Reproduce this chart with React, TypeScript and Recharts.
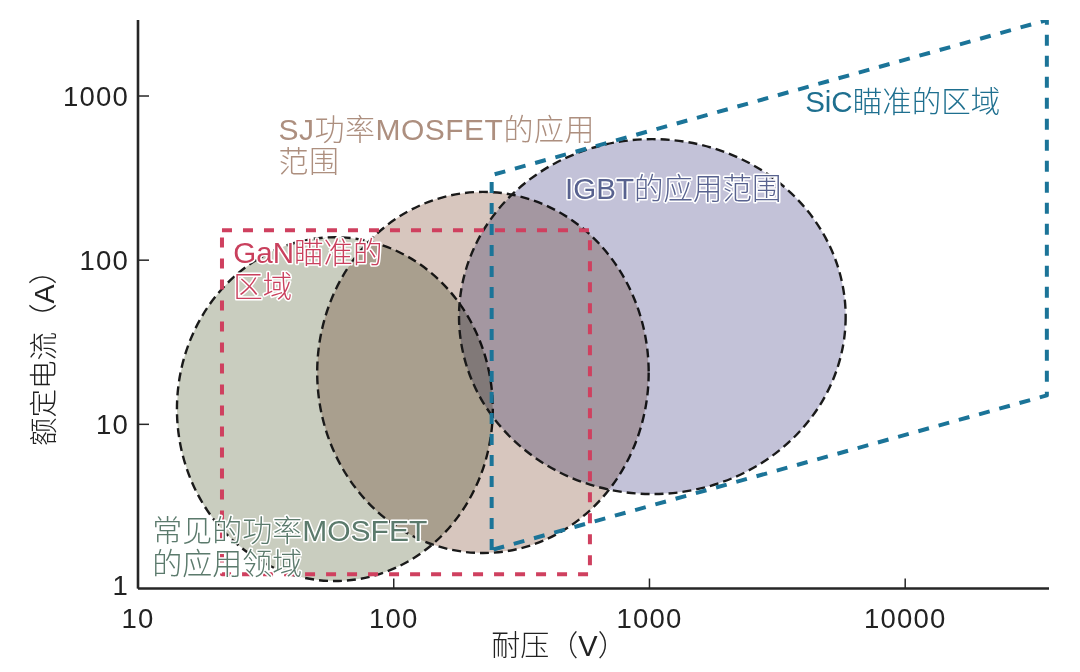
import React from 'react';
import { ComposedChart, XAxis, YAxis, ReferenceArea, ReferenceDot, Line, Label } from 'recharts';

const FONT = '"Liberation Sans", "Noto Sans CJK SC", sans-serif';

// axes (log-log)
const xTicks = [10, 100, 1000, 10000];
const yTicks = [1, 10, 100, 1000];
const xDomain = [10, 36500];
const yDomain = [1, 2904];

// application regions (ellipse bounding boxes, data units)
const regionNames = ['常见的功率MOSFET', 'SJ功率MOSFET', 'IGBT'];
const regionVoltageMin = [14.2, 50.2, 180];
const regionVoltageMax = [244, 993, 5850];
const regionCurrentMin = [1.11, 1.645, 3.76];
const regionCurrentMax = [138, 260.6, 546];
const regionFills = ['#c9cdbf', '#d7c6be', '#c3c2d8'];

// GaN target region (rectangle)
const ganVoltage = [21.3, 585];
const ganCurrent = [1.22, 152.4];

// SiC target region (polygon vertices, closed)
const sicVoltage = [241.5, 241.5, 35800, 35800, 241.5];
const sicCurrent = [1.716, 329.6, 2900, 15.0, 1.716];

// annotation labels
const labelLines = [
  ['SJ功率MOSFET的应用', '范围'],
  ['GaN瞄准的', '区域'],
  ['IGBT的应用范围'],
  ['SiC瞄准的区域'],
  ['常见的功率MOSFET', '的应用领域'],
];
const labelVoltage = [35.4, 23.6, 467.7, 4062, 11.37];
const labelCurrent = [629, 110.6, 275, 932, 2.27];
const labelColors = ['#ad8f7f', '#c9405d', '#58628f', '#1e6f8f', '#5b7a6c'];
const labelSizes = [30, 29.5, 29.5, 29.5, 30];
const labelSpacing = [0.5, 0, 0, 0, 0];
const labelLineHeights = [32, 34, 34, 34, 33];

const sicData = sicVoltage.map((v, i) => ({ x: v, y: sicCurrent[i] }));

const AXIS = '#262626';

const XTick = (props: any) => {
  const { x, y, payload } = props;
  return (
    <g>
      <line x1={x} x2={x} y1={y} y2={y - 10} stroke={AXIS} strokeWidth={1.5} />
      <text x={x} y={y + 30} textAnchor="middle" dominantBaseline="central" fontSize={27.5} letterSpacing={1.2} fill="#222" fontFamily={FONT}>
        {payload.value}
      </text>
    </g>
  );
};

const YTick = (props: any) => {
  const { x, y, payload } = props;
  return (
    <g>
      {payload.value !== 1 && <line x1={x} x2={x + 11} y1={y} y2={y} stroke={AXIS} strokeWidth={1.5} />}
      <text x={x - 9} y={payload.value === 1 ? y - 3 : y} textAnchor="end" dominantBaseline="central" fontSize={27.5} letterSpacing={1.2} fill="#222" fontFamily={FONT}>
        {payload.value}
      </text>
    </g>
  );
};

const makeEllipse = (fill: string) => (p: any) => {
  const { x, y, width, height } = p;
  return (
    <g>
      <ellipse
        cx={x + width / 2}
        cy={y + height / 2}
        rx={Math.abs(width) / 2}
        ry={Math.abs(height) / 2}
        fill={fill}
        style={{ mixBlendMode: 'multiply' }}
      />
      <ellipse
        cx={x + width / 2}
        cy={y + height / 2}
        rx={Math.abs(width) / 2}
        ry={Math.abs(height) / 2}
        fill="none"
        stroke="#1a1a1a"
        strokeWidth={2.4}
        strokeDasharray="9 5"
      />
    </g>
  );
};

const GanRect = (p: any) => {
  const { x, y, width, height } = p;
  return (
    <rect
      x={x}
      y={y}
      width={width}
      height={height}
      fill="none"
      stroke="#cf405f"
      strokeWidth={4}
      strokeDasharray="10 11"
      strokeLinejoin="round"
    />
  );
};

const makeLabel = (i: number) => (p: any) => {
  const { cx, cy } = p;
  return (
    <g>
      {labelLines[i].map((line, j) => (
        <text
          key={j}
          x={cx}
          y={cy + j * labelLineHeights[i]}
          dominantBaseline="central"
          textAnchor="start"
          fontSize={labelSizes[i]}
          letterSpacing={labelSpacing[i]}
          fontWeight={300}
          fill={labelColors[i]}
          stroke="#ffffff"
          strokeWidth={3}
          strokeLinejoin="round"
          paintOrder="stroke"
          fontFamily={FONT}
        >
          {line}
        </text>
      ))}
    </g>
  );
};

const XTitle = (p: any) => {
  const vb = p && p.viewBox ? p.viewBox : { x: 138, y: 588.5, width: 911, height: 83.5 };
  return (
    <text x={vb.x + 421} y={vb.y + 57} textAnchor="middle" dominantBaseline="central" fontSize={29} fontWeight={300} fill="#222" fontFamily={FONT}>
      耐压（V）
    </text>
  );
};

const YTitle = (p: any) => {
  const vb = p && p.viewBox ? p.viewBox : { x: 0, y: 20, width: 138, height: 568.5 };
  const cx = vb.x + 43.5;
  const cy = vb.y + 331;
  return (
    <text
      x={cx}
      y={cy}
      transform={`rotate(-90 ${cx} ${cy})`}
      textAnchor="middle"
      dominantBaseline="central"
      fontSize={28.5}
      fontWeight={300}
      fill="#222"
      fontFamily={FONT}
    >
      额定电流（A）
    </text>
  );
};

export default function App() {
  return (
    <div style={{ position: 'absolute', left: 0, top: 0, width: 1080, height: 672, background: '#fff' }}>
      <ComposedChart
        width={1080}
        height={672}
        margin={{ top: 20, right: 31, bottom: 0, left: 0 }}
        style={{ fontFamily: FONT }}
      >
        <XAxis
          type="number"
          dataKey="x"
          scale="log"
          domain={xDomain}
          allowDataOverflow
          ticks={xTicks}
          interval={0}
          tickSize={0}
          tickMargin={0}
          tickLine={false}
          height={83.5}
          axisLine={{ stroke: AXIS, strokeWidth: 2.6 }}
          tick={(p: any) => <XTick {...p} />}
        >
          <Label content={XTitle} />
        </XAxis>
        <YAxis
          type="number"
          scale="log"
          domain={yDomain}
          allowDataOverflow
          ticks={yTicks}
          interval={0}
          tickSize={0}
          tickMargin={0}
          tickLine={false}
          width={138}
          axisLine={{ stroke: AXIS, strokeWidth: 2.6 }}
          tick={(p: any) => <YTick {...p} />}
        >
          <Label content={YTitle} />
        </YAxis>

        {regionNames.map((name, i) => (
          <ReferenceArea
            key={name}
            x1={regionVoltageMin[i]}
            x2={regionVoltageMax[i]}
            y1={regionCurrentMin[i]}
            y2={regionCurrentMax[i]}
            ifOverflow="visible"
            shape={makeEllipse(regionFills[i])}
          />
        ))}

        <ReferenceArea
          x1={ganVoltage[0]}
          x2={ganVoltage[1]}
          y1={ganCurrent[0]}
          y2={ganCurrent[1]}
          ifOverflow="visible"
          shape={GanRect}
        />

        <Line
          data={sicData}
          dataKey="y"
          type="linear"
          stroke="#1b7498"
          strokeWidth={4}
          strokeDasharray="11 10"
          strokeLinejoin="round"
          dot={false}
          activeDot={false}
          isAnimationActive={false}
        />

        {labelLines.map((lines, i) => (
          <ReferenceDot
            key={lines[0]}
            x={labelVoltage[i]}
            y={labelCurrent[i]}
            ifOverflow="visible"
            shape={makeLabel(i)}
          />
        ))}
      </ComposedChart>
    </div>
  );
}
